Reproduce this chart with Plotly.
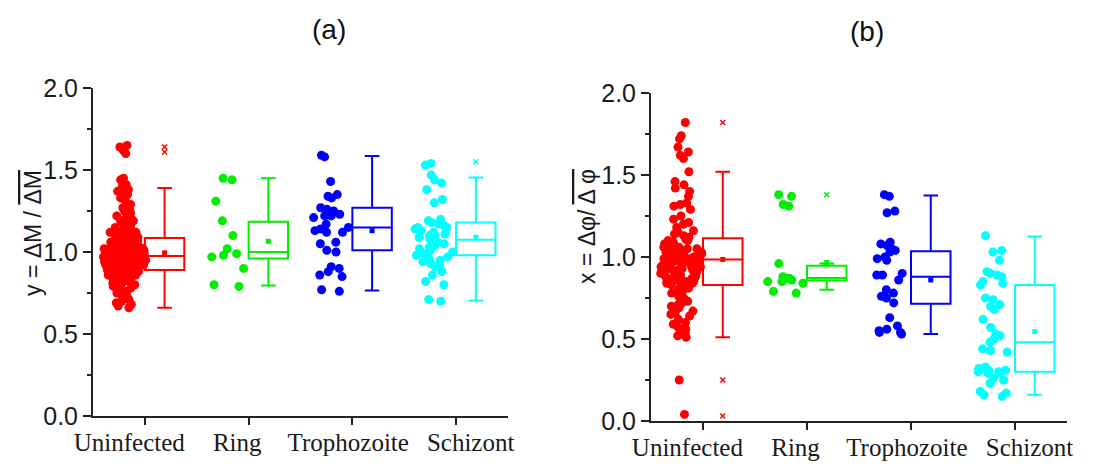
import plotly.graph_objects as go

categories = ["Uninfected", "Ring", "Trophozoite", "Schizont"]
colors = ["#ff0000", "#00ee00", "#0000ff", "#00ffff"]

# ---------------- panel (a): y = dM / mean(dM) ----------------
a_uninfected = [
    0.66, 0.67, 0.68, 0.69, 0.70,
    0.71, 0.72, 0.73, 0.74, 0.75, 0.76, 0.77, 0.78, 0.79, 0.79,
    0.80, 0.80, 0.81, 0.81, 0.82, 0.82, 0.83, 0.83, 0.84, 0.84, 0.85, 0.85, 0.85,
    0.86, 0.86, 0.86, 0.87, 0.87, 0.87, 0.88, 0.88, 0.88, 0.89, 0.89, 0.89,
    0.86, 0.87, 0.88, 0.89, 0.90, 0.91, 0.92, 0.93, 0.94, 0.95,
    0.90, 0.90, 0.90, 0.91, 0.91, 0.91, 0.92, 0.92, 0.92, 0.92, 0.93, 0.93, 0.93, 0.93,
    0.94, 0.94, 0.94, 0.94, 0.95, 0.95, 0.95, 0.95, 0.95, 0.96, 0.96, 0.96, 0.96,
    0.97, 0.97, 0.97, 0.97, 0.98, 0.98, 0.98, 0.98, 0.99, 0.99, 0.99, 0.99, 0.99,
    0.94, 0.95, 0.96, 0.96, 0.97, 0.98, 0.99, 1.00, 1.01, 1.02,
    1.00, 1.00, 1.00, 1.00, 1.01, 1.01, 1.01, 1.01, 1.02, 1.02, 1.02, 1.03, 1.03, 1.03,
    1.04, 1.04, 1.04, 1.05, 1.05, 1.05, 1.06, 1.06, 1.06, 1.07, 1.07, 1.07, 1.08, 1.08,
    1.09, 1.09,
    1.03, 1.04, 1.05, 1.06, 1.07, 1.08, 1.09, 1.10, 1.11, 1.12,
    1.10, 1.11, 1.11, 1.12, 1.12, 1.13, 1.14, 1.14, 1.15, 1.16, 1.17, 1.18, 1.19, 1.19,
    1.20, 1.21, 1.22, 1.23, 1.24, 1.25, 1.26, 1.27, 1.29,
    1.31, 1.33, 1.35, 1.36, 1.37, 1.38,
    1.40, 1.41, 1.44, 1.45,
    1.60, 1.62, 1.64, 1.65,
]
a_ring = [1.45, 1.44, 1.31, 1.19, 1.10, 1.02, 0.99, 0.98, 0.97, 0.90, 0.80, 0.79]
a_troph = [1.59, 1.58, 1.43, 1.35, 1.34, 1.33, 1.27, 1.26, 1.25, 1.23, 1.22, 1.22,
           1.21, 1.17, 1.15, 1.14, 1.13, 1.12, 1.12, 1.06, 1.05, 1.01, 1.00, 0.91,
           0.90, 0.88, 0.86, 0.85, 0.77, 0.76]
a_schiz = [1.54, 1.53, 1.47, 1.44, 1.42, 1.38, 1.32, 1.30, 1.20, 1.19, 1.18, 1.17,
           1.16, 1.15, 1.15, 1.14, 1.13, 1.12, 1.11, 1.10, 1.10, 1.09, 1.08, 1.06,
           1.05, 1.04, 1.03, 1.02, 1.01, 1.00, 0.99, 0.98, 0.97, 0.96, 0.95, 0.94,
           0.93, 0.92, 0.91, 0.88, 0.86, 0.82, 0.80, 0.71, 0.70]

a_q1 = [0.89, 0.96, 1.01, 0.98]
a_median = [0.975, 1.00, 1.15, 1.075]
a_q3 = [1.085, 1.185, 1.27, 1.18]
a_lower = [0.66, 0.795, 0.765, 0.705]
a_upper = [1.39, 1.45, 1.585, 1.455]
a_mean = [0.995, 1.065, 1.13, 1.09]
a_outliers = [[1.61, 1.64], [], [], [1.55]]

# ---------------- panel (b): x = dphi / mean(dphi) ----------------
b_uninfected = [
    1.82, 1.74, 1.72, 1.67, 1.64, 1.62, 1.60, 1.52, 1.46, 1.44, 1.42, 1.40, 1.37,
    1.33, 1.32, 1.31, 1.29, 1.25, 1.23, 1.21, 1.20, 1.18, 1.16,
    1.15, 1.14, 1.13, 1.12, 1.11, 1.10, 1.10,
    1.09, 1.08, 1.08, 1.07, 1.06, 1.06, 1.05, 1.05, 1.04, 1.03, 1.03, 1.02, 1.02,
    1.01, 1.01, 1.00, 1.00,
    1.08, 1.05, 1.02, 0.99, 0.97, 0.94, 0.92, 0.89, 0.87, 0.85,
    0.99, 0.99, 0.98, 0.98, 0.97, 0.97, 0.96, 0.96, 0.95, 0.95, 0.94, 0.94, 0.93,
    0.93, 0.92, 0.92, 0.91, 0.91, 0.90, 0.90,
    0.89, 0.88, 0.88, 0.87, 0.86, 0.86, 0.85, 0.85, 0.84, 0.84, 0.83, 0.82, 0.81, 0.80,
    0.79, 0.78, 0.76, 0.75, 0.73, 0.72, 0.71, 0.70,
    0.69, 0.67, 0.66, 0.65, 0.64, 0.62, 0.60, 0.59, 0.57, 0.56, 0.55, 0.54, 0.53,
    0.52, 0.51,
    0.25, 0.04,
]
b_ring = [1.38, 1.37, 1.32, 1.31, 0.96, 0.88, 0.87, 0.87, 0.86, 0.85, 0.85, 0.84,
          0.79, 0.78]
b_troph = [1.38, 1.37, 1.28, 1.27, 1.09, 1.08, 1.07, 1.05, 1.04, 1.03, 1.00, 0.99,
           0.98, 0.90, 0.89, 0.89, 0.86, 0.80, 0.78, 0.76, 0.75, 0.72, 0.63, 0.58,
           0.56, 0.55, 0.54, 0.54, 0.53]
b_schiz = [1.13, 1.04, 1.03, 0.98, 0.91, 0.90, 0.89, 0.88, 0.85, 0.84, 0.83, 0.75,
           0.74, 0.71, 0.70, 0.68, 0.62, 0.57, 0.53, 0.52, 0.50, 0.48, 0.44, 0.43,
           0.42, 0.33, 0.32, 0.31, 0.31, 0.30, 0.30, 0.29, 0.29, 0.26, 0.25, 0.23,
           0.18, 0.17, 0.16, 0.15]

b_q1 = [0.83, 0.857, 0.715, 0.30]
b_median = [0.985, 0.872, 0.88, 0.48]
b_q3 = [1.115, 0.947, 1.035, 0.83]
b_lower = [0.51, 0.80, 0.53, 0.16]
b_upper = [1.52, 0.96, 1.375, 1.125]
b_mean = [0.985, 0.967, 0.86, 0.545]
b_outliers = [[1.82, 0.25, 0.03], [1.38], [], []]

panel_a = [a_uninfected, a_ring, a_troph, a_schiz]
panel_b = [b_uninfected, b_ring, b_troph, b_schiz]

# ---------------- styling constants ----------------
PTS_SHIFT = -0.2
PTS_WIDTH = 0.42
BOX_SHIFT = 0.19
BOX_WIDTH = 0.38
LABEL_SHIFT = [-0.15, -0.11, -0.04, 0.14]   # label placement relative to ticks
AXIS_COLOR = "#222222"
TEXT_COLOR = "#1a1a1a"

fig = go.Figure()


def add_panel(points, q1, med, q3, lo, hi, mean, outl, xa, ya):
    for i, vals in enumerate(points):
        c = colors[i]
        fig.add_trace(go.Box(
            y=vals, x0=i + PTS_SHIFT, width=PTS_WIDTH,
            boxpoints="all", jitter=1.0, pointpos=0,
            marker=dict(color=c, size=9, symbol="circle"),
            line=dict(width=0, color="rgba(0,0,0,0)"),
            fillcolor="rgba(0,0,0,0)", hoverinfo="skip", showlegend=False,
            xaxis=xa, yaxis=ya))
        fig.add_trace(go.Box(
            x=[i + BOX_SHIFT], q1=[q1[i]], median=[med[i]], q3=[q3[i]],
            lowerfence=[lo[i]], upperfence=[hi[i]], width=BOX_WIDTH,
            whiskerwidth=0.37, boxpoints=False,
            line=dict(color=c, width=2), fillcolor="rgba(255,255,255,0)",
            showlegend=False, xaxis=xa, yaxis=ya))
        if outl[i]:
            fig.add_trace(go.Scatter(
                x=[i + BOX_SHIFT] * len(outl[i]), y=outl[i], mode="markers",
                marker=dict(color=c, size=5, symbol="x-thin", line=dict(color=c, width=1.5)),
                showlegend=False, xaxis=xa, yaxis=ya))
    fig.add_trace(go.Scatter(
        x=[i + BOX_SHIFT for i in range(len(mean))], y=mean, mode="markers",
        marker=dict(color=colors, size=5, symbol="square"),
        showlegend=False, xaxis=xa, yaxis=ya))


add_panel(panel_a, a_q1, a_median, a_q3, a_lower, a_upper, a_mean, a_outliers, "x", "y")
add_panel(panel_b, b_q1, b_median, b_q3, b_lower, b_upper, b_mean, b_outliers, "x2", "y2")

W, H = 1117, 467

xcommon = dict(range=[-0.5, 3.5], tickvals=[0, 1, 2, 3], showticklabels=False,
               ticks="outside", ticklen=7, tickwidth=1.5, tickcolor=AXIS_COLOR,
               showline=True, linecolor=AXIS_COLOR, linewidth=2, showgrid=False,
               zeroline=False, automargin=False)
xlabels = dict(range=[-0.5, 3.5], tickvals=[i + s for i, s in enumerate(LABEL_SHIFT)],
               ticktext=categories, ticks="", showline=False, showgrid=False,
               zeroline=False, automargin=False, ticklabelstandoff=9,
               tickfont=dict(family="Liberation Serif", size=25, color=TEXT_COLOR))
ycommon = dict(range=[0, 2], tickvals=[0, 0.5, 1.0, 1.5, 2.0], tickformat=".1f",
               ticks="outside", ticklen=8, tickwidth=1.5, tickcolor=AXIS_COLOR,
               minor=dict(dtick=0.25, ticks="outside", ticklen=4, tickwidth=1.5,
                          tickcolor=AXIS_COLOR, showgrid=False),
               showline=True, linecolor=AXIS_COLOR, linewidth=2, showgrid=False,
               zeroline=False, automargin=False,
               tickfont=dict(family="Liberation Sans", size=25, color=TEXT_COLOR))

xa_dom = [93 / W, 508 / W]
xb_dom = [651 / W, 1067 / W]

fig.update_layout(
    width=W, height=H, margin=dict(l=0, r=0, t=0, b=0, autoexpand=False),
    paper_bgcolor="white", plot_bgcolor="white", boxmode="overlay",
    xaxis=dict(domain=xa_dom, anchor="y", **xcommon),
    yaxis=dict(domain=[1 - 416 / H, 1 - 88 / H], anchor="x", **ycommon),
    xaxis2=dict(domain=xb_dom, anchor="y2", **xcommon),
    yaxis2=dict(domain=[1 - 421 / H, 1 - 93 / H], anchor="x2", **ycommon),
    xaxis3=dict(overlaying="x", anchor="y", side="bottom", **xlabels),
    xaxis4=dict(overlaying="x2", anchor="y2", side="bottom", **xlabels),
    annotations=[
        dict(text="(a)", x=310 / W, y=1 - 29 / H, xref="paper", yref="paper",
             yanchor="middle", showarrow=False,
             font=dict(family="Liberation Sans", size=28, color="#111")),
        dict(text="(b)", x=886 / W, y=1 - 32 / H, xref="paper", yref="paper",
             yanchor="middle", showarrow=False,
             font=dict(family="Liberation Sans", size=28, color="#111")),
        dict(text='y = ΔM / <span style="text-decoration:overline">ΔM</span>',
             x=33 / W, y=1 - 233 / H, xref="paper", yref="paper", textangle=-90,
             xanchor="center", yanchor="middle", showarrow=False,
             font=dict(family="Liberation Sans", size=23, color=TEXT_COLOR)),
        dict(text='x = Δφ/ <span style="text-decoration:overline">Δ φ</span>',
             x=587 / W, y=1 - 227 / H, xref="paper", yref="paper", textangle=-90,
             xanchor="center", yanchor="middle", showarrow=False,
             font=dict(family="Liberation Sans", size=23, color=TEXT_COLOR)),
    ],
)

# dummy traces so the label axes are drawn
fig.add_trace(go.Scatter(x=[None], y=[None], xaxis="x3", yaxis="y", showlegend=False,
                         hoverinfo="skip"))
fig.add_trace(go.Scatter(x=[None], y=[None], xaxis="x4", yaxis="y2", showlegend=False,
                         hoverinfo="skip"))

fig.write_html("out.html", config={"displayModeBar": False},
               post_script="document.body.style.margin='0';")
